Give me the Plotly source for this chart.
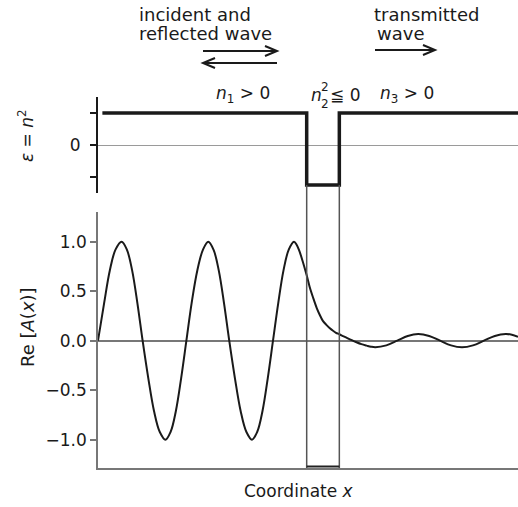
import plotly.graph_objects as go

# Re[A(x)] along the coordinate axis (one incident wavelength = 1 unit)
coord_x = [0.00, 0.07, 0.135, 0.20, 0.27, 0.33, 0.39, 0.45, 0.51, 0.575, 0.64, 0.705,
           0.77, 0.83, 0.89, 0.95, 1.01, 1.07, 1.135, 1.20, 1.26, 1.32, 1.38, 1.44,
           1.50, 1.565, 1.63, 1.695, 1.76, 1.82, 1.88, 1.94, 2.00, 2.06, 2.12, 2.18,
           2.24, 2.27, 2.30, 2.34, 2.385, 2.42, 2.46, 2.50, 2.535, 2.57, 2.61, 2.65,
           2.686, 2.72, 2.758, 2.80, 2.84, 2.90, 2.954, 3.01, 3.07, 3.12, 3.17,
           3.295, 3.42, 3.54, 3.66, 3.785, 3.91, 4.035, 4.16, 4.285, 4.41, 4.535,
           4.66, 4.73, 4.80]
re_a = [0.0, 0.38, 0.71, 0.92, 1.0, 0.92, 0.71, 0.38, 0.0, -0.38, -0.71, -0.92,
        -1.0, -0.92, -0.71, -0.38, 0.0, 0.38, 0.71, 0.92, 1.0, 0.92, 0.71, 0.38,
        0.0, -0.38, -0.71, -0.92, -1.0, -0.92, -0.71, -0.38, 0.0, 0.38, 0.71, 0.92,
        1.0, 0.97, 0.91, 0.80, 0.66, 0.54, 0.43, 0.33, 0.26, 0.20, 0.16, 0.125,
        0.10, 0.08, 0.065, 0.047, 0.03, 0.005, -0.016, -0.035, -0.05, -0.061, -0.066,
        -0.047, 0.0, 0.048, 0.068, 0.048, 0.0, -0.047, -0.066, -0.047, 0.0, 0.048,
        0.068, 0.060, 0.04]

# permittivity profile: n1^2 > 0, barrier n2^2 <= 0, n3^2 > 0
barrier = [2.385, 2.758]
eps_x = [0.05, barrier[0], barrier[0], barrier[1], barrier[1], 4.80]
eps_y = [1.0, 1.0, -1.25, -1.25, 1.0, 1.0]

re_ticks = [-1.0, -0.5, 0.0, 0.5, 1.0]
eps_label_ticks = [0]
eps_bare_ticks = [-1, 1]

W, H = 518, 507
ML, MR, MT, MB = 98, 0, 97, 39
PW, PH = W - ML - MR, H - MT - MB


def xp(px):
    return (px - ML) / PW


def yp(py):
    return (H - MB - py) / PH


FONT = "DejaVu Sans"
INK = "#1a1a1a"

fig = go.Figure()
fig.add_trace(go.Scatter(x=eps_x, y=eps_y, mode="lines",
                         line=dict(color=INK, width=3.5),
                         xaxis="x", yaxis="y", hoverinfo="skip"))
fig.add_trace(go.Scatter(x=coord_x, y=re_a, mode="lines",
                         line=dict(color=INK, width=2, shape="spline", smoothing=1),
                         xaxis="x2", yaxis="y2", hoverinfo="skip"))

shapes = []
for bx in barrier:
    shapes.append(dict(type="line", xref="x2", yref="paper", x0=bx, x1=bx,
                       y0=0, y1=yp(185), line=dict(color="#555", width=1.5)))
shapes.append(dict(type="line", xref="x2", yref="paper", x0=barrier[0], x1=barrier[1],
                   y0=yp(466.5), y1=yp(466.5), line=dict(color="#222", width=2)))


def arrow(x_tail, x_tip, py, head=12, half=5):
    """Horizontal arrow with an open chevron head, in pixel positions."""
    shapes.append(dict(type="line", xref="paper", yref="paper",
                       x0=xp(x_tail), x1=xp(x_tip), y0=yp(py), y1=yp(py),
                       line=dict(color=INK, width=2)))
    back = x_tip - head if x_tip > x_tail else x_tip + head
    shapes.append(dict(type="path", xref="paper", yref="paper",
                       path=(f"M {xp(back)} {yp(py - half)} L {xp(x_tip)} {yp(py)} "
                             f"L {xp(back)} {yp(py + half)}"),
                       line=dict(color=INK, width=2)))


arrow(203, 277, 51)
arrow(277, 203, 63)
arrow(375, 435, 50)

ann = []


def text(s, px, py, size=18, xanchor="left", angle=0):
    ann.append(dict(text=s, x=xp(px), y=yp(py), xref="paper", yref="paper",
                    xanchor=xanchor, yanchor="middle", showarrow=False,
                    textangle=angle, font=dict(family=FONT, size=size, color=INK)))


text("incident and", 137, 14)
text("reflected wave", 137, 33)
text("transmitted", 372, 15)
text("wave", 375, 33)

text("<i>n</i><sub>1</sub> > 0", 214, 95, size=17)
text("<i>n</i>", 309, 95, size=17)
text("2", 319, 87, size=12)
text("2", 319, 104, size=12)
text("≦ 0", 328, 95, size=17)
text("<i>n</i><sub>3</sub> > 0", 378, 95, size=17)

text("<i>ε</i> = <i>n</i><sup>2</sup>", 26, 136, size=17, xanchor="center", angle=-90)
text("Re [<i>A</i>(<i>x</i>)]", 27, 327, size=18, xanchor="center", angle=-90)
text("Coordinate <i>x</i>", 299, 491, size=17, xanchor="center")

fig.update_layout(
    width=W, height=H,
    margin=dict(l=ML, r=MR, t=MT, b=MB),
    paper_bgcolor="white", plot_bgcolor="rgba(0,0,0,0)",
    showlegend=False,
    font=dict(family=FONT, size=17, color=INK),
    xaxis=dict(domain=[0, 1], anchor="y", range=[0, 4.8], visible=False,
               showgrid=False, zeroline=False),
    yaxis=dict(domain=[yp(193), 1], anchor="x", range=[-1.5, 1.5],
               tickmode="array", tickvals=eps_label_ticks, ticks="outside",
               ticklen=6, tickwidth=1.5, tickcolor=INK, showline=True,
               minor=dict(tickmode="array", tickvals=eps_bare_ticks, ticks="outside",
                          ticklen=6, tickwidth=1.5, tickcolor=INK, showgrid=False),
               linecolor=INK, linewidth=2, showgrid=False, zeroline=True,
               zerolinecolor="#9a9a9a", zerolinewidth=1, ticklabelstandoff=6,
               tickfont=dict(family=FONT, size=17, color=INK)),
    xaxis2=dict(domain=[0, 1], anchor="y2", range=[0, 4.8], matches="x",
                showline=True, linecolor="#777", linewidth=1.5, ticks="",
                showticklabels=False, showgrid=False, zeroline=False),
    yaxis2=dict(domain=[0, yp(212)], anchor="x2", range=[-1.286, 1.30],
                tickvals=re_ticks, tickformat=".1f", ticks="outside",
                ticklen=6, tickwidth=1.5, tickcolor="#777", showline=True,
                linecolor="#777", linewidth=1.5, showgrid=False, zeroline=True,
                zerolinecolor="#777", zerolinewidth=1.5,
                tickfont=dict(family=FONT, size=17, color=INK)),
    shapes=shapes,
    annotations=ann,
)

fig.write_html("out.html")
